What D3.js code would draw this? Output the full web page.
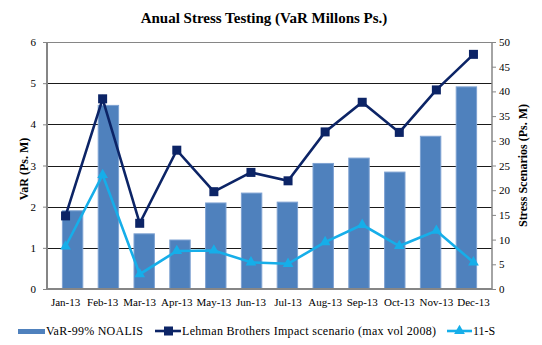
<!DOCTYPE html>
<html>
<head>
<meta charset="utf-8">
<script src="https://cdn.jsdelivr.net/npm/d3@7"></script>
<style>
  body { margin: 0; background: #fff; }
</style>
</head>
<body>
<svg width="542" height="345"></svg>
<script>
const months = ['Jan-13', 'Feb-13', 'Mar-13', 'Apr-13', 'May-13', 'Jun-13', 'Jul-13', 'Aug-13', 'Sep-13', 'Oct-13', 'Nov-13', 'Dec-13'];
const varNoalis = [1.9, 4.46, 1.34, 1.19, 2.09, 2.33, 2.11, 3.05, 3.18, 2.84, 3.71, 4.91];
const lehman = [14.8, 38.5, 13.3, 28.1, 19.7, 23.6, 21.9, 31.8, 37.8, 31.7, 40.3, 47.5];
const elevenS = [8.6, 23.1, 3.0, 7.7, 7.8, 5.4, 5.1, 9.5, 13.0, 8.7, 11.8, 5.4];
const leftTicks = [0, 1, 2, 3, 4, 5, 6];
const rightTicks = [0, 5, 10, 15, 20, 25, 30, 35, 40, 45, 50];

const FONT = 'Liberation Serif';
const svg = d3.select('svg').attr('font-family', FONT);
const margin = { top: 42, right: 50, bottom: 56, left: 47 };
const width = 542 - margin.left - margin.right;
const height = 345 - margin.top - margin.bottom;

const x = d3.scaleBand().domain(months).range([0, width]).padding(0.43);
const xc = d3.scaleBand().domain(months).range([0, width]);
const yL = d3.scaleLinear().domain([0, 6]).range([height, 0]);
const yR = d3.scaleLinear().domain([0, 50]).range([height, 0]);

svg.append('text')
  .attr('x', 264).attr('y', 23)
  .attr('text-anchor', 'middle')
  .attr('font-family', FONT)
  .attr('font-size', 15).attr('font-weight', 'bold')
  .text('Anual Stress Testing (VaR Millons Ps.)');

const g = svg.append('g').attr('transform', `translate(${margin.left},${margin.top})`);

// gridlines
g.selectAll('.grid')
  .data(leftTicks.filter((d) => d > 0 && d < 6))
  .enter().append('line')
  .attr('x1', 0).attr('x2', width)
  .attr('y1', (d) => Math.round(yL(d)) + 0.5).attr('y2', (d) => Math.round(yL(d)) + 0.5)
  .attr('stroke', '#1a1a1a').attr('stroke-width', 1);
g.append('line')
  .attr('x1', 0).attr('x2', width).attr('y1', 0.5).attr('y2', 0.5)
  .attr('stroke', '#868686');

// bars
g.selectAll('.bar')
  .data(varNoalis)
  .enter().append('rect')
  .attr('x', (d, i) => x(months[i]))
  .attr('y', (d) => yL(d))
  .attr('width', x.bandwidth())
  .attr('height', (d) => height - yL(d))
  .attr('fill', '#4f81bd')
  .attr('stroke', '#7ea2d2').attr('stroke-width', 1);

// axes
const axL = g.append('g').call(d3.axisLeft(yL).tickValues(leftTicks).tickSize(4).tickPadding(7).tickFormat(d3.format('d')));
const axR = g.append('g').attr('transform', `translate(${width},0)`)
  .call(d3.axisRight(yR).tickValues(rightTicks).tickSize(4).tickPadding(3).tickFormat(d3.format('d')));
const axB = g.append('g').attr('transform', `translate(0,${height})`)
  .call(d3.axisBottom(xc).tickSize(0).tickPadding(9));
[axL, axR, axB].forEach((a) => {
  a.attr('font-family', FONT).attr('font-size', 11);
  a.select('.domain').attr('stroke', '#868686').attr('stroke-width', 2);
  a.selectAll('.tick line').attr('stroke', '#868686');
  a.selectAll('text').attr('fill', '#000');
});
axL.select('.domain').attr('d', `M0,0V${height}`);
axR.select('.domain').attr('d', `M0,0V${height}`).attr('stroke-width', 1.5);
axB.select('.domain').attr('d', `M0,${0}H${width}`);

// lines
const cx = (i) => xc(months[i]) + xc.bandwidth() / 2;
const lineL = d3.line().x((d, i) => cx(i)).y((d) => yR(d));

g.append('path').datum(lehman)
  .attr('d', lineL).attr('fill', 'none')
  .attr('stroke', '#0c2466').attr('stroke-width', 2.6);
g.selectAll('.sq').data(lehman).enter().append('rect')
  .attr('x', (d, i) => cx(i) - 4.5).attr('y', (d) => yR(d) - 4.5)
  .attr('width', 9).attr('height', 9).attr('fill', '#0c2466');

g.append('path').datum(elevenS)
  .attr('d', lineL).attr('fill', 'none')
  .attr('stroke', '#16aee9').attr('stroke-width', 2.6);
const tri = d3.symbol().type(d3.symbolTriangle).size(50);
g.selectAll('.tri').data(elevenS).enter().append('path')
  .attr('d', tri)
  .attr('transform', (d, i) => `translate(${cx(i)},${yR(d)})`)
  .attr('fill', '#16aee9');

// axis titles
svg.append('text')
  .attr('transform', 'translate(28,169) rotate(-90)')
  .attr('text-anchor', 'middle').attr('font-family', FONT)
  .attr('font-size', 12).attr('font-weight', 'bold')
  .text('VaR (Ps. M)');
svg.append('text')
  .attr('transform', 'translate(527,165.5) rotate(-90)')
  .attr('text-anchor', 'middle').attr('font-family', FONT)
  .attr('font-size', 12).attr('font-weight', 'bold')
  .text('Stress Scenarios  (Ps. M)');

// legend
const leg = svg.append('g').attr('transform', 'translate(0,331)').attr('font-family', FONT).attr('font-size', 12);
leg.append('rect').attr('x', 18).attr('y', -2).attr('width', 27).attr('height', 5).attr('fill', '#4f81bd');
leg.append('text').attr('x', 46).attr('y', 4)
  .attr('textLength', 97).text('VaR-99%  NOALIS');
leg.append('line').attr('x1', 155).attr('x2', 181).attr('y1', 0).attr('y2', 0).attr('stroke', '#0c2466').attr('stroke-width', 2.6);
leg.append('rect').attr('x', 164).attr('y', -4.5).attr('width', 9).attr('height', 9).attr('fill', '#0c2466');
leg.append('text').attr('x', 182).attr('y', 4)
  .attr('textLength', 254).text('Lehman Brothers Impact scenario (max vol 2008)');
leg.append('line').attr('x1', 447).attr('x2', 472).attr('y1', 0).attr('y2', 0).attr('stroke', '#16aee9').attr('stroke-width', 2.6);
leg.append('path').attr('d', tri).attr('transform', 'translate(459.5,0)').attr('fill', '#16aee9');
leg.append('text').attr('x', 473).attr('y', 4).text('11-S');
</script>
</body>
</html>
